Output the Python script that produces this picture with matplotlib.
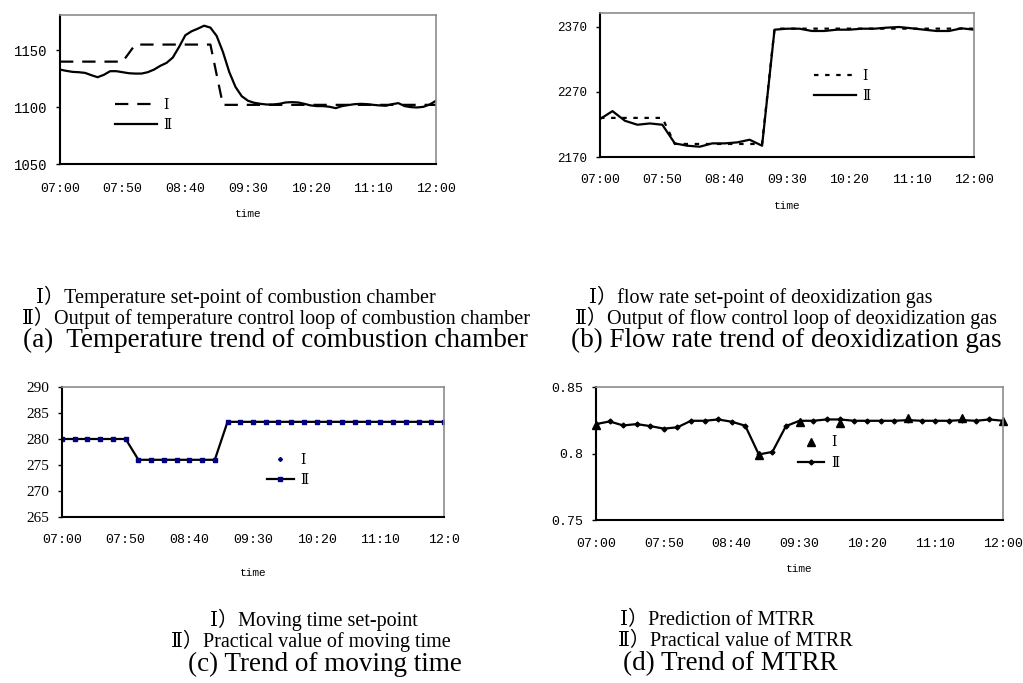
import matplotlib
matplotlib.use('Agg')
import matplotlib.pyplot as plt
from matplotlib.lines import Line2D

# time axis (minutes after 07:00)
tick_minutes = [0, 50, 100, 150, 200, 250, 300]
tick_labels = ['07:00', '07:50', '08:40', '09:30', '10:20', '11:10', '12:00']
tick_labels_c = ['07:00', '07:50', '08:40', '09:30', '10:20', '11:10', '12:0']

# (a) temperature of combustion chamber
temp_set_t = [0, 50, 60, 120, 130, 300]
temp_set = [1140, 1140, 1155, 1155, 1102, 1102]
temp_out_t = list(range(0, 305, 5))
temp_out = [1133.0, 1131.9, 1131.0, 1130.7, 1130.1, 1128.1, 1126.3, 1128.4, 1131.6, 1131.6,
            1130.7, 1129.8, 1129.5, 1129.5, 1130.7, 1133.0, 1136.3, 1138.9, 1143.6, 1152.9,
            1163.2, 1166.7, 1169.0, 1171.6, 1169.9, 1162.6, 1148.5, 1131.0, 1117.8, 1109.6,
            1105.6, 1103.8, 1102.9, 1102.3, 1102.3, 1102.9, 1104.1, 1104.4, 1104.1, 1102.9,
            1101.5, 1100.9, 1100.9, 1100.3, 1099.1, 1100.9, 1101.8, 1102.6, 1102.9, 1102.6,
            1102.0, 1101.5, 1101.2, 1102.6, 1103.5, 1100.9, 1100.0, 1099.7, 1100.3, 1102.3,
            1105.6]

# (b) flow rate of deoxidization gas
flow_set_t = [0, 50, 60, 130, 140, 300]
flow_set = [2230, 2230, 2190, 2190, 2367, 2367]
t10 = list(range(0, 310, 10))
flow_out = [2228.2, 2240.4, 2225.6, 2219.5, 2221.5, 2219.5, 2190.9, 2187.3, 2185.8, 2190.9,
            2190.9, 2192.4, 2196.5, 2187.3, 2365.4, 2366.9, 2366.9, 2363.4, 2363.4, 2365.4,
            2365.4, 2366.9, 2366.9, 2368.5, 2369.5, 2367.5, 2365.4, 2363.4, 2363.4, 2367.5,
            2365.4]

# (c) moving time
move_set = [280, 280, 280, 280, 280, 280, 276, 276, 276, 276, 276, 276, 276,
            283.3, 283.3, 283.3, 283.3, 283.3, 283.3, 283.3, 283.3, 283.3, 283.3,
            283.3, 283.3, 283.3, 283.3, 283.3, 283.3, 283.3, 283.3]
move_out = [280, 280, 280, 280, 280, 280, 276, 276, 276, 276, 276, 276, 276,
            283.3, 283.3, 283.3, 283.3, 283.3, 283.3, 283.3, 283.3, 283.3, 283.3,
            283.3, 283.3, 283.3, 283.3, 283.3, 283.3, 283.3, 283.3]

# (d) MTRR
mtrr_pred_t = [0, 120, 150, 180, 230, 270, 300]
mtrr_pred = [0.8215, 0.799, 0.824, 0.8226, 0.8264, 0.8264, 0.8246]
mtrr_out = [0.8221, 0.8241, 0.8211, 0.8221, 0.8206, 0.8187, 0.8197, 0.8246, 0.8246, 0.8256,
            0.8239, 0.8209, 0.7993, 0.8012, 0.8206, 0.8246, 0.8246, 0.8256, 0.8256, 0.8246,
            0.8246, 0.8246, 0.8246, 0.8251, 0.8246, 0.8246, 0.8246, 0.8251, 0.8246, 0.8256,
            0.8246]

W, H = 1023, 683
MONO = 'Liberation Mono'
SERIF = ['Liberation Serif', 'DejaVu Serif', 'Noto Sans CJK SC']
NUM = ['DejaVu Serif', 'Noto Sans CJK SC']

fig = plt.figure(figsize=(W / 100, H / 100), dpi=100)


def make_axes(left, right, top, bottom):
    return fig.add_axes([left / W, 1 - bottom / H, (right - left) / W, (bottom - top) / H])


def style_axes(ax, ylim, yticks, ylabels, xlabels, ysize=8.5, yfont=MONO, xpad=11, labelpad=8):
    ax.set_xlim(0, 300)
    ax.set_ylim(*ylim)
    ax.set_xticks(tick_minutes)
    ax.set_xticklabels(xlabels, fontfamily=MONO, fontsize=9.5)
    ax.set_yticks(yticks)
    ax.set_yticklabels(ylabels, fontfamily=yfont, fontsize=ysize)
    ax.tick_params(axis='x', length=0, pad=xpad)
    ax.tick_params(axis='y', length=3, width=1, direction='out', pad=6)
    ax.spines['left'].set_linewidth(1.5)
    ax.spines['bottom'].set_linewidth(1.5)
    for s in ['top', 'right']:
        ax.spines[s].set_color('#8c8c8c')
        ax.spines[s].set_linewidth(1.2)
    ax.set_xlabel('time', fontfamily=MONO, fontsize=8, labelpad=labelpad)


def add_legend(ax, handles, x, y, hl):
    ax.legend(handles, ['\u2160', '\u2161'], loc='center left', bbox_to_anchor=(x, y),
              frameon=False, borderpad=0, borderaxespad=0, handlelength=hl,
              handletextpad=0.5, labelspacing=0.45, prop={'family': NUM, 'size': 10})


# (a)
ax = make_axes(60, 436, 15, 164)
ax.plot(temp_set_t, temp_set, color='black', lw=1.6, dashes=(6, 4))
ax.plot(temp_out_t, temp_out, color='black', lw=1.6)
style_axes(ax, (1050, 1181), [1050, 1100, 1150], ['1050', '1100', '1150'], tick_labels,
           ysize=10, xpad=14, labelpad=10)
add_legend(ax, [Line2D([], [], color='black', lw=1.6, dashes=(6, 4)),
                Line2D([], [], color='black', lw=1.6)], 0.146, 0.33, 3.0)

# (b)
ax = make_axes(600, 974, 13, 157)
ax.plot(flow_set_t, flow_set, color='black', lw=1.6, dashes=(2, 3))
ax.plot(t10, flow_out, color='black', lw=1.6)
style_axes(ax, (2170, 2391), [2170, 2270, 2370], ['2170', '2270', '2370'], tick_labels,
           ysize=9, xpad=12, labelpad=11)
add_legend(ax, [Line2D([], [], color='black', lw=1.6, dashes=(2, 3)),
                Line2D([], [], color='black', lw=1.6)], 0.572, 0.493, 3.0)

# (c)
ax = make_axes(62, 444, 387, 517)
ax.plot(t10, move_set, linestyle='none', marker='D', ms=2, color='#000080')
ax.plot(t10, move_out, color='black', lw=1.6, marker='s', ms=3,
        markerfacecolor='#000080', markeredgecolor='#000080')
style_axes(ax, (265, 290), [265, 270, 275, 280, 285, 290],
           ['265', '270', '275', '280', '285', '290'], tick_labels_c,
           ysize=11, yfont=['Liberation Serif'], xpad=12, labelpad=16)
add_legend(ax, [Line2D([], [], linestyle='none', marker='D', ms=2, color='#000080'),
                Line2D([], [], color='black', lw=1.6, marker='s', ms=3,
                       markerfacecolor='#000080', markeredgecolor='#000080')], 0.537, 0.36, 1.9)

# (d)
ax = make_axes(596, 1003, 387, 520)
ax.plot(t10, mtrr_out, color='black', lw=1.6, marker='D', ms=2.5)
ax.plot(mtrr_pred_t, mtrr_pred, linestyle='none', marker='^', ms=6, color='black', clip_on=False)
style_axes(ax, (0.75, 0.85), [0.75, 0.8, 0.85], ['0.75', '0.8', '0.85'], tick_labels,
           ysize=9.5, xpad=13, labelpad=10)
add_legend(ax, [Line2D([], [], linestyle='none', marker='^', ms=6, color='black'),
                Line2D([], [], color='black', lw=1.6, marker='D', ms=2.5)], 0.496, 0.507, 1.9)

# captions
def caption(x, y, s, size):
    fig.text(x / W, 1 - y / H, s, ha='center', va='center', fontfamily=SERIF, fontsize=size)

SMALL, BIG = 14.5, 19.5
caption(236, 297, '\u2160\uff09Temperature set-point of combustion chamber', SMALL)
caption(276, 318, '\u2161\uff09Output of temperature control loop of combustion chamber', SMALL)
caption(275, 340, '(a)  Temperature trend of combustion chamber', BIG)
caption(761, 297, '\u2160\uff09flow rate set-point of deoxidization gas', SMALL)
caption(786, 318, '\u2161\uff09Output of flow control loop of deoxidization gas', SMALL)
caption(786, 340, '(b) Flow rate trend of deoxidization gas', BIG)
caption(314, 620, '\u2160\uff09Moving time set-point', SMALL)
caption(311, 641, '\u2161\uff09Practical value of moving time', SMALL)
caption(325, 664, '(c) Trend of moving time', BIG)
caption(717, 620, '\u2160\uff09Prediction of MTRR', SMALL)
caption(735, 641, '\u2161\uff09Practical value of MTRR', SMALL)
caption(730, 664, '(d) Trend of MTRR', BIG)

fig.savefig('out.png', dpi=100)
